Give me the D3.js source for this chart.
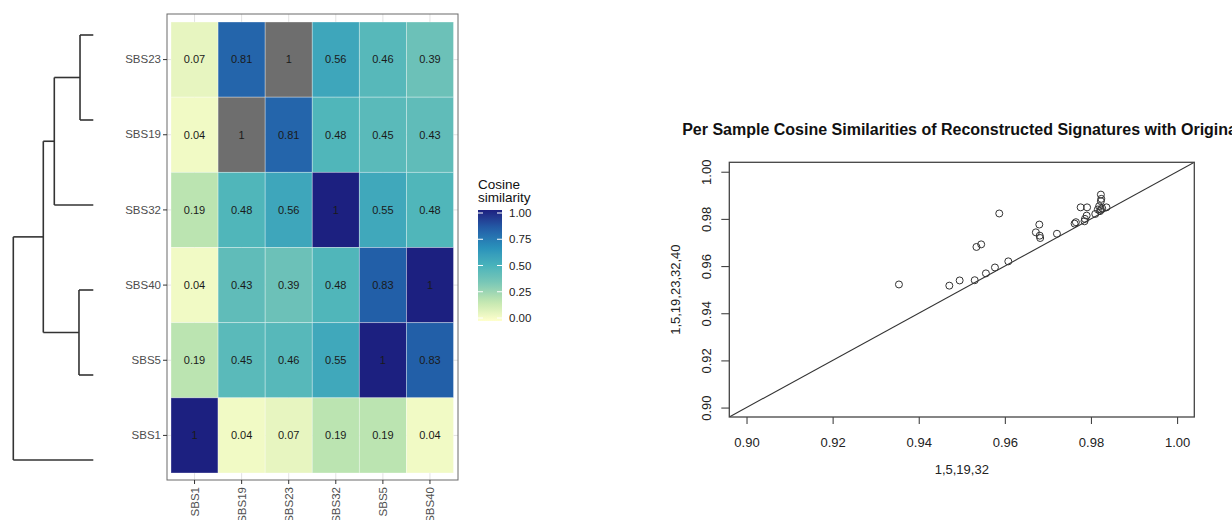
<!DOCTYPE html>
<html>
<head>
<meta charset="utf-8">
<script src="https://cdn.jsdelivr.net/npm/d3@7"></script>
<style>
  html, body { margin: 0; padding: 0; background: #fff; }
  svg { display: block; font-family: "Liberation Sans", Arial, sans-serif; }
</style>
</head>
<body>
<svg id="chart" width="1232" height="520"></svg>
<script>
// ---- Signature cosine-similarity matrix ----
const rowSigs = ["SBS23", "SBS19", "SBS32", "SBS40", "SBS5", "SBS1"];
const colSigs = ["SBS1", "SBS19", "SBS23", "SBS32", "SBS5", "SBS40"];
// self-similarities of SBS19/SBS23 sit a hair above 1 and fall outside the fill limits
const simSBS23 = [0.07, 0.81, 1.0000001, 0.56, 0.46, 0.39];
const simSBS19 = [0.04, 1.0000001, 0.81, 0.48, 0.45, 0.43];
const simSBS32 = [0.19, 0.48, 0.56, 1, 0.55, 0.48];
const simSBS40 = [0.04, 0.43, 0.39, 0.48, 0.83, 1];
const simSBS5  = [0.19, 0.45, 0.46, 0.55, 1, 0.83];
const simSBS1  = [1, 0.04, 0.07, 0.19, 0.19, 0.04];
const simRows = [simSBS23, simSBS19, simSBS32, simSBS40, simSBS5, simSBS1];

// yellow-green-blue ramp
const fillStops = ["#ffffcc", "#c5e8b0", "#7cc9b6", "#48b3bb", "#2790bb", "#225ea8", "#1c2080"];
const naFill = "#6e6e6e";
const legendTicks = [0, 0.25, 0.5, 0.75, 1];

// ---- Dendrogram (leaf order top to bottom, merge heights) ----
const leafOrder = ["SBS23", "SBS19", "SBS32", "SBS40", "SBS5", "SBS1"];
const dendro = {
  h: 1.0, children: [
    { h: 0.625, children: [
      { h: 0.4875, children: [
        { h: 0.166, children: [{ name: "SBS23" }, { name: "SBS19" }] },
        { name: "SBS32" }
      ]},
      { h: 0.179, children: [{ name: "SBS40" }, { name: "SBS5" }] }
    ]},
    { name: "SBS1" }
  ]
};

// ---- Per-sample cosine similarities ----
const xLabel = "1,5,19,32";
const yLabel = "1,5,19,23,32,40";
const plotTitle = "Per Sample Cosine Similarities of Reconstructed Signatures with Original";
const simFourSig = [0.9354, 0.9471, 0.9495, 0.9530, 0.9534, 0.9545, 0.9556, 0.9577, 0.9587, 0.9608,
                    0.9672, 0.9680, 0.9681, 0.9682, 0.9721, 0.9762, 0.9765, 0.9776, 0.9785, 0.9786,
                    0.9790, 0.9791, 0.9810, 0.9816, 0.9819, 0.9821, 0.9823, 0.9823, 0.9824, 0.9823,
                    0.9836, 0.9826];
const simSixSig  = [0.9522, 0.9517, 0.9539, 0.9540, 0.9681, 0.9692, 0.9569, 0.9594, 0.9823, 0.9620,
                    0.9743, 0.9776, 0.9729, 0.9719, 0.9737, 0.9780, 0.9786, 0.9849, 0.9790, 0.9800,
                    0.9814, 0.9849, 0.9821, 0.9840, 0.9854, 0.9833, 0.9840, 0.9903, 0.9885, 0.9875,
                    0.9849, 0.9845];
const scatterTicks = [0.90, 0.92, 0.94, 0.96, 0.98, 1.00];

const svg = d3.select("#chart");
svg.append("rect").attr("width", 1232).attr("height", 520).attr("fill", "#fff");

// ================= Dendrogram =================
const root = d3.hierarchy(dendro);
const leafY = d3.scalePoint().domain(leafOrder).range([35, 460]);
const heightX = d3.scaleLinear().domain([0, 1]).range([93.3, 13.3]);
root.eachAfter(n => {
  n.px = heightX(n.data.h || 0);
  n.py = n.children ? d3.mean(n.children, c => c.py) : leafY(n.data.name);
});
const dg = svg.append("g").attr("fill", "none").attr("stroke", "#333").attr("stroke-width", 1.6);
root.each(n => {
  if (!n.children) return;
  const ys = n.children.map(c => c.py);
  dg.append("line").attr("x1", n.px).attr("x2", n.px).attr("y1", d3.min(ys)).attr("y2", d3.max(ys));
  n.children.forEach(c => {
    dg.append("line").attr("x1", n.px).attr("x2", c.px).attr("y1", c.py).attr("y2", c.py);
  });
});

// ================= Heatmap =================
const panel = { x0: 167, x1: 458, y0: 14, y1: 480 };
const xHeat = d3.scaleBand().domain(colSigs).range([171, 453.5]);
const yHeat = d3.scaleBand().domain(rowSigs).range([22, 473]);
const fillScale = d3.scaleLinear()
  .domain(fillStops.map((_, i) => i / (fillStops.length - 1)))
  .range(fillStops)
  .interpolate(d3.interpolateLab);
const fillOf = v => (v < 0 || v > 1) ? naFill : fillScale(v);

const hm = svg.append("g");
hm.append("rect").attr("x", panel.x0).attr("y", panel.y0)
  .attr("width", panel.x1 - panel.x0).attr("height", panel.y1 - panel.y0).attr("fill", "#fff");
// major grid
hm.selectAll("line.gx").data(colSigs).join("line")
  .attr("x1", d => xHeat(d) + xHeat.bandwidth() / 2).attr("x2", d => xHeat(d) + xHeat.bandwidth() / 2)
  .attr("y1", panel.y0).attr("y2", panel.y1).attr("stroke", "#e2e2e2").attr("stroke-width", 1);
hm.selectAll("line.gy").data(rowSigs).join("line")
  .attr("y1", d => yHeat(d) + yHeat.bandwidth() / 2).attr("y2", d => yHeat(d) + yHeat.bandwidth() / 2)
  .attr("x1", panel.x0).attr("x2", panel.x1).attr("stroke", "#e2e2e2").attr("stroke-width", 1);

const cells = [];
rowSigs.forEach((r, i) => colSigs.forEach((c, j) => cells.push({ r, c, v: simRows[i][j] })));
hm.selectAll("rect.cell").data(cells).join("rect")
  .attr("x", d => xHeat(d.c)).attr("y", d => yHeat(d.r))
  .attr("width", xHeat.bandwidth()).attr("height", yHeat.bandwidth())
  .attr("fill", d => fillOf(d.v))
  .attr("stroke", "rgba(255,255,255,0.4)").attr("stroke-width", 0.8);
hm.selectAll("text.cell").data(cells).join("text")
  .attr("x", d => xHeat(d.c) + xHeat.bandwidth() / 2)
  .attr("y", d => yHeat(d.r) + yHeat.bandwidth() / 2)
  .attr("dy", "0.35em").attr("text-anchor", "middle")
  .attr("font-size", 11).attr("fill", "#1a1a1a")
  .text(d => String(Math.round(d.v * 100) / 100));
hm.append("rect").attr("x", panel.x0).attr("y", panel.y0)
  .attr("width", panel.x1 - panel.x0).attr("height", panel.y1 - panel.y0)
  .attr("fill", "none").attr("stroke", "#6a6a6a").attr("stroke-width", 1);

const yAxHeat = svg.append("g").attr("transform", `translate(${panel.x0},0)`)
  .call(d3.axisLeft(yHeat).tickSize(4).tickPadding(2));
const xAxHeat = svg.append("g").attr("transform", `translate(0,${panel.y1})`)
  .call(d3.axisBottom(xHeat).tickSize(4).tickPadding(2));
[yAxHeat, xAxHeat].forEach(g => {
  g.select(".domain").remove();
  g.selectAll(".tick line").attr("stroke", "#333");
  g.selectAll(".tick text").attr("fill", "#4d4d4d").attr("font-size", 11.5)
    .attr("font-family", "Liberation Sans, Arial, sans-serif");
});
xAxHeat.selectAll(".tick text")
  .attr("transform", "rotate(-90)")
  .attr("text-anchor", "end").attr("x", -7).attr("y", 0).attr("dy", "0.35em");

// ---- colour bar legend ----
const bar = { x: 478, y: 210, w: 24, h: 111 };
const defs = svg.append("defs");
const grad = defs.append("linearGradient").attr("id", "cosGrad")
  .attr("x1", 0).attr("y1", 1).attr("x2", 0).attr("y2", 0);
d3.range(0, 1.0001, 0.05).forEach(t => {
  grad.append("stop").attr("offset", t).attr("stop-color", fillScale(t));
});
const lg = svg.append("g");
lg.append("text").attr("x", 478).attr("y", 189).attr("font-size", 13.5).attr("fill", "#111").text("Cosine");
lg.append("text").attr("x", 478).attr("y", 202).attr("font-size", 13.5).attr("fill", "#111").text("similarity");
lg.append("rect").attr("x", bar.x).attr("y", bar.y).attr("width", bar.w).attr("height", bar.h)
  .attr("fill", "url(#cosGrad)");
const yLeg = d3.scaleLinear().domain([0, 1]).range([bar.y + bar.h - 3, bar.y + 3]);
legendTicks.forEach(t => {
  lg.append("line").attr("x1", bar.x).attr("x2", bar.x + 5).attr("y1", yLeg(t)).attr("y2", yLeg(t))
    .attr("stroke", "#fff").attr("stroke-width", 1);
  lg.append("line").attr("x1", bar.x + bar.w - 5).attr("x2", bar.x + bar.w).attr("y1", yLeg(t)).attr("y2", yLeg(t))
    .attr("stroke", "#fff").attr("stroke-width", 1);
  lg.append("text").attr("x", 509).attr("y", yLeg(t)).attr("dy", "0.35em")
    .attr("font-size", 11.5).attr("fill", "#222").text(t.toFixed(2));
});

// ================= Scatter =================
const box = { x0: 729.3, x1: 1194.3, y0: 162.3, y1: 417 };
const xS = d3.scaleLinear().domain([0.896, 1.004]).range([box.x0, box.x1]);
const yS = d3.scaleLinear().domain([0.896, 1.004]).range([box.y1, box.y0]);

defs.append("clipPath").attr("id", "boxClip").append("rect")
  .attr("x", box.x0).attr("y", box.y0).attr("width", box.x1 - box.x0).attr("height", box.y1 - box.y0);

const sc = svg.append("g");
sc.append("line").attr("clip-path", "url(#boxClip)")
  .attr("x1", xS(0.896)).attr("y1", yS(0.896)).attr("x2", xS(1.004)).attr("y2", yS(1.004))
  .attr("stroke", "#333").attr("stroke-width", 1.1);
sc.selectAll("circle").data(simFourSig.map((x, i) => [x, simSixSig[i]])).join("circle")
  .attr("cx", d => xS(d[0])).attr("cy", d => yS(d[1])).attr("r", 3.5)
  .attr("fill", "none").attr("stroke", "#333").attr("stroke-width", 1);
sc.append("rect").attr("x", box.x0).attr("y", box.y0)
  .attr("width", box.x1 - box.x0).attr("height", box.y1 - box.y0)
  .attr("fill", "none").attr("stroke", "#444").attr("stroke-width", 1.3);

const xAxS = svg.append("g").attr("transform", `translate(0,${box.y1})`)
  .call(d3.axisBottom(xS).tickValues(scatterTicks).tickFormat(d3.format(".2f")).tickSize(7).tickPadding(14));
const yAxS = svg.append("g").attr("transform", `translate(${box.x0},0)`)
  .call(d3.axisLeft(yS).tickValues(scatterTicks).tickFormat(d3.format(".2f")).tickSize(8));
[xAxS, yAxS].forEach(g => {
  g.select(".domain").remove();
  g.selectAll(".tick line").attr("stroke", "#444").attr("stroke-width", 1.1);
  g.selectAll(".tick text").attr("fill", "#222").attr("font-size", 13)
    .attr("font-family", "Liberation Sans, Arial, sans-serif");
});
yAxS.selectAll(".tick text")
  .attr("transform", "rotate(-90)").attr("text-anchor", "middle")
  .attr("x", 0).attr("y", -18.5).attr("dy", 0);

svg.append("text").attr("x", (box.x0 + box.x1) / 2).attr("y", 474)
  .attr("text-anchor", "middle").attr("font-size", 13).attr("fill", "#222").text(xLabel);
svg.append("text").attr("transform", `translate(680,${(box.y0 + box.y1) / 2}) rotate(-90)`)
  .attr("text-anchor", "middle").attr("font-size", 13).attr("fill", "#222").text(yLabel);
svg.append("text").attr("x", (box.x0 + box.x1) / 2).attr("y", 135)
  .attr("text-anchor", "middle").attr("font-size", 16).attr("font-weight", "bold")
  .attr("fill", "#111").text(plotTitle);
</script>
</body>
</html>
